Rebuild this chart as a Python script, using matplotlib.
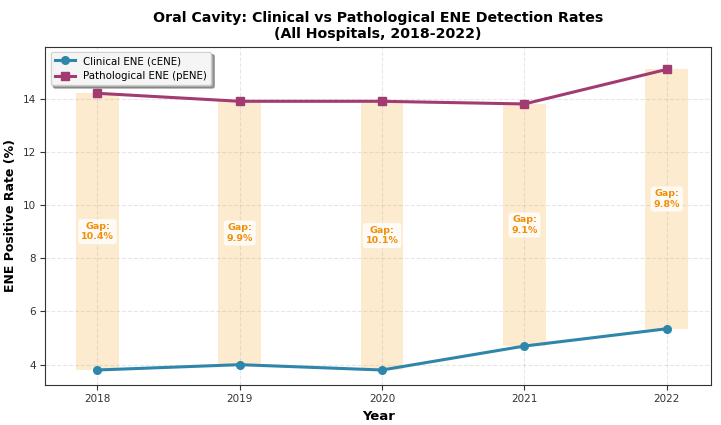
import matplotlib.pyplot as plt
import numpy as np

years = [2018, 2019, 2020, 2021, 2022]
cene = [3.8, 4.0, 3.8, 4.7, 5.35]
pene = [14.2, 13.9, 13.9, 13.8, 15.1]
gap_labels = ["10.4%", "9.9%", "10.1%", "9.1%", "9.8%"]

fig, ax = plt.subplots(figsize=(7.21, 4.25), dpi=100)

for yr, c, p, g in zip(years, cene, pene, gap_labels):
    ax.fill_between([yr - 0.15, yr + 0.15], c, p, color='#f5a623', alpha=0.22, linewidth=0)
    ax.text(yr, (c + p) / 2, "Gap:\n" + g, ha='center', va='center', fontsize=6.8,
            fontweight='bold', color='#f0900a',
            bbox=dict(boxstyle='round,pad=0.3', facecolor='white', edgecolor='none', alpha=0.8))

ax.plot(years, cene, '-o', color='#2E86AB', lw=2.2, ms=5.5, label='Clinical ENE (cENE)')
ax.plot(years, pene, '-s', color='#A23B72', lw=2.2, ms=5.5, label='Pathological ENE (pENE)')

ax.set_xlim(2017.635, 2022.31)
ax.set_ylim(3.25, 15.95)
ax.set_xticks(years)
ax.tick_params(labelsize=7.5, labelcolor='#333333', color='#333333')
for s in ax.spines.values():
    s.set_color('#333333')
ax.set_xlabel('Year', fontsize=9.5, fontweight='bold')
ax.set_ylabel('ENE Positive Rate (%)', fontsize=9, fontweight='bold')
ax.set_title('Oral Cavity: Clinical vs Pathological ENE Detection Rates\n(All Hospitals, 2018-2022)',
             fontsize=10.2, fontweight='bold')
ax.grid(True, linestyle='--', alpha=0.3)
ax.legend(loc='upper left', fontsize=7.4, shadow=True, framealpha=0.9)

plt.subplots_adjust(left=0.063, right=0.986, top=0.89, bottom=0.095)
plt.savefig('out.png', dpi=100)
